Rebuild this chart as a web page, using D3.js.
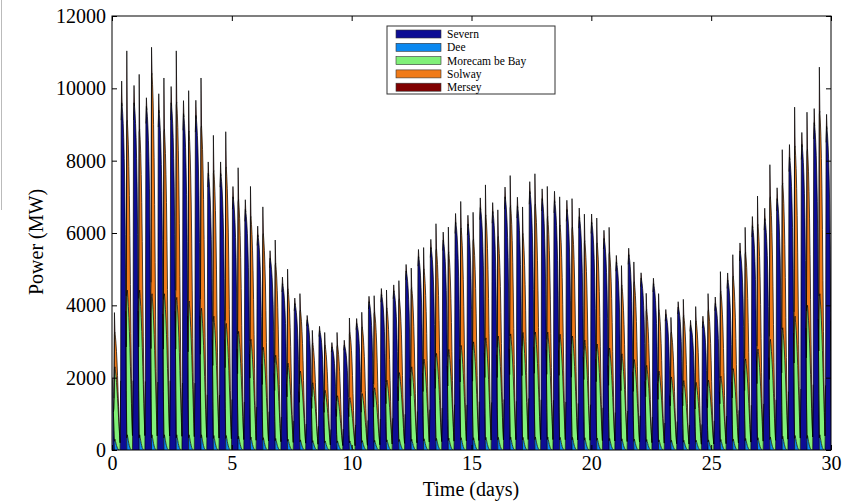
<!DOCTYPE html>
<html lang="en">

<head>
    <meta charset="UTF-8">
    <title>Tidal power by site</title>

    <script src="https://d3js.org/d3.v7.min.js"></script>

    <style>
        body {
            margin: 0;
            background: #fff;
        }

        svg {
            display: block;
            font-family: "Liberation Serif", "DejaVu Serif", serif;
        }

        .tick text {
            font-size: 20px;
            fill: #000;
        }

        .legend_text {
            font-size: 11.5px;
        }
    </style>

</head>

<body>
    <svg width="856" height="501"></svg>

    <script>
        // series names and colours (jet-like)
        const names = ["Severn", "Dee", "Morecam be Bay", "Solway", "Mersey"];
        const colors = ["#0d0d94", "#0a88f0", "#80f078", "#f07a18", "#800000"];

        // tidal cycles: first cycle start (days) and period (days)
        const cycleStart = 0.36;
        const tidalPeriod = 0.516;

        // peak power per tidal cycle (MW), cycle -1 .. 57
        const severn = [2600, 9600, 9600, 9500, 9400, 9600, 9300, 9250, 7650, 7650,
            7000, 6650, 5950, 5300, 4600, 4050, 3600, 3300, 2850, 2900,
            3500, 4100, 4300, 4400, 4950, 5350, 5600, 5800, 6300, 6250,
            6700, 6600, 7000, 6750, 7150, 6950, 6900, 6650, 6450, 6300,
            5850, 5200, 5400, 4750, 4600, 3750, 3950, 3450, 3550, 4050,
            4700, 5500, 6200, 6400, 6950, 8100, 8450, 9050, 8950];
        const dee = [300, 420, 420, 420, 420, 420, 420, 420, 400, 400,
            380, 360, 340, 320, 300, 280, 260, 250, 250, 250,
            260, 270, 280, 290, 300, 310, 320, 330, 340, 340,
            350, 350, 360, 350, 360, 360, 350, 350, 340, 330,
            320, 310, 300, 290, 280, 270, 270, 270, 280, 290,
            300, 320, 340, 360, 380, 400, 400, 420, 420];
        const morecambe = [2000, 4000, 4000, 3900, 3900, 3800, 3700, 3500, 3300, 3100,
            2900, 2700, 2500, 2300, 2100, 1900, 1600, 1400, 1250, 1200,
            1300, 1450, 1650, 1850, 2000, 2200, 2350, 2450, 2550, 2650,
            2750, 2800, 2850, 2900, 2900, 2900, 2850, 2800, 2700, 2600,
            2500, 2350, 2200, 2050, 1900, 1750, 1650, 1600, 1650, 1750,
            1950, 2200, 2450, 2700, 3000, 3300, 3600, 3900, 4000];
        const solway = [960, 4700, 4450, 6100, 4550, 5400, 4700, 5050, 4030, 4330,
            3650, 3400, 3150, 2550, 2060, 1700, 1100, 1250, 1400, 1800,
            1850, 2100, 2000, 2050, 2190, 2500, 2900, 2700, 3250, 2850,
            3400, 2760, 3550, 2740, 3550, 3200, 3020, 3020, 2750, 2800,
            2650, 1900, 2160, 1550, 1700, 1250, 1800, 1700, 1950, 2350,
            2560, 2950, 3450, 3950, 4000, 4710, 4320, 5050, 3550];
        const mersey = [600, 2000, 1600, 800, 1500, 1500, 1200, 1400, 1050, 1050,
            950, 900, 800, 700, 600, 500, 400, 400, 400, 450,
            450, 500, 550, 550, 600, 650, 750, 750, 800, 800,
            900, 800, 900, 800, 900, 900, 850, 850, 800, 750,
            750, 600, 600, 500, 500, 450, 500, 450, 500, 600,
            650, 750, 850, 950, 1000, 1150, 1100, 1300, 1100];

        // generation shape through one cycle (fraction of peak, 24 steps)
        const severnShape = [0.2, 0.95, 1, 0.99, 0.97, 0.94, 0.9, 0.84, 0.76, 0.62, 0.4, 0.15,
            0, 0, 0, 0, 0, 0, 0, 0, 0, 0, 0, 0];
        const deeShape = [0, 0, 0, 0, 0, 0, 0, 0, 0, 0, 0, 0.5,
            0.8, 1, 0.8, 0.6, 0.42, 0.28, 0.16, 0.08, 0.03, 0, 0, 0];
        const morecambeShape = [0, 0, 0, 0, 0, 0, 0, 0, 0, 0, 0, 0.3,
            1, 1, 0.97, 0.93, 0.87, 0.79, 0.69, 0.57, 0.45, 0.32, 0.2, 0.1];
        const solwayShape = [0, 0, 0, 0, 0, 0, 0, 0, 0, 0, 0, 0.3,
            1, 1, 0.98, 0.95, 0.89, 0.8, 0.66, 0.48, 0.3, 0.15, 0.05, 0];
        const merseyShape = [0, 0, 0.3, 0, 0, 0, 0, 0, 0, 0, 0, 0,
            1, 0, 0, 0, 0, 0, 0, 0, 0, 0, 0, 0];

        const xTicks = [0, 5, 10, 15, 20, 25, 30];
        const yTicks = [0, 2000, 4000, 6000, 8000, 10000, 12000];

        const svg = d3.select("svg");

        const plotLeft = 112, plotRight = 831, plotTop = 16, plotBottom = 450;

        const x = d3.scaleLinear().domain([0, 30]).range([plotLeft, plotRight]);
        const y = d3.scaleLinear().domain([0, 12000]).range([plotBottom, plotTop]);

        // build the rows for the stack
        const peaks = [severn, dee, morecambe, solway, mersey];
        const shapes = [severnShape, deeShape, morecambeShape, solwayShape, merseyShape];
        const steps = severnShape.length;
        const rows = [];
        for (let i = 0; i < severn.length; i++) {
            for (let j = 0; j < steps; j++) {
                const t = cycleStart + (i - 1) * tidalPeriod + j * tidalPeriod / steps;
                if (t < 0 || t > 30.3) continue;
                const row = { t: t };
                names.forEach((nm, s) => row[nm] = peaks[s][i] * shapes[s][j]);
                rows.push(row);
            }
        }

        const series = d3.stack().keys(names)(rows);

        svg.append("line")
            .attr("x1", 1.5).attr("x2", 1.5)
            .attr("y1", 0).attr("y2", 210)
            .attr("stroke", "#bbb");

        svg.append("clipPath").attr("id", "plotclip")
            .append("rect")
            .attr("x", plotLeft).attr("y", plotTop)
            .attr("width", plotRight - plotLeft).attr("height", plotBottom - plotTop);

        const area = d3.area()
            .x(d => x(d.data.t))
            .y0(d => y(d[0]))
            .y1(d => y(d[1]));

        const plot = svg.append("g").attr("clip-path", "url(#plotclip)");

        plot.selectAll(".layer")
            .data(series)
            .enter()
            .append("path")
            .attr("class", "layer")
            .attr("d", area)
            .attr("fill", (d, i) => colors[i]);

        // black edge along the top of each layer, only where the layer is present
        const hasValue = d => d && d[1] - d[0] > 0;
        const edge = d3.line()
            .defined((d, i, arr) => hasValue(d) || hasValue(arr[i - 1]) || hasValue(arr[i + 1]))
            .x(d => x(d.data.t))
            .y(d => y(d[1]));

        plot.selectAll(".edge")
            .data(series)
            .enter()
            .append("path")
            .attr("class", "edge")
            .attr("d", edge)
            .attr("fill", "none")
            .attr("stroke", "#000")
            .attr("stroke-width", 0.7)
            .attr("stroke-linejoin", "round");

        // axes with inward ticks on all four sides
        const fmt = d3.format("d");
        const gB = svg.append("g").attr("transform", `translate(0,${plotBottom})`)
            .call(d3.axisBottom(x).tickValues(xTicks).tickSize(-5).tickPadding(6).tickFormat(fmt));
        const gT = svg.append("g").attr("transform", `translate(0,${plotTop})`)
            .call(d3.axisTop(x).tickValues(xTicks).tickSize(-5).tickFormat(""));
        const gL = svg.append("g").attr("transform", `translate(${plotLeft},0)`)
            .call(d3.axisLeft(y).tickValues(yTicks).tickSize(-5).tickPadding(6).tickFormat(fmt));
        const gR = svg.append("g").attr("transform", `translate(${plotRight},0)`)
            .call(d3.axisRight(y).tickValues(yTicks).tickSize(-5).tickFormat(""));
        [gB, gT, gL, gR].forEach(g => {
            g.select(".domain").remove();
            g.selectAll(".tick line").attr("stroke", "#000");
            g.attr("font-family", null).attr("font-size", null);
        });

        svg.append("rect")
            .attr("x", plotLeft).attr("y", plotTop)
            .attr("width", plotRight - plotLeft).attr("height", plotBottom - plotTop)
            .attr("fill", "none")
            .attr("stroke", "#000");

        svg.append("text")
            .attr("transform", `translate(43,242) rotate(-90)`)
            .attr("text-anchor", "middle")
            .attr("font-size", 20)
            .text("Power (MW)");

        svg.append("text")
            .attr("x", 471).attr("y", 496)
            .attr("text-anchor", "middle")
            .attr("font-size", 20)
            .text("Time (days)");

        // legend
        const legend = svg.append("g").attr("transform", "translate(387,26)");
        legend.append("rect")
            .attr("width", 168).attr("height", 68)
            .attr("fill", "#fff")
            .attr("stroke", "#333");
        names.forEach((nm, i) => {
            const cy = 8 + i * 13.3;
            legend.append("rect")
                .attr("x", 9).attr("y", cy - 4)
                .attr("width", 45).attr("height", 8)
                .attr("fill", colors[i])
                .attr("stroke", "#333")
                .attr("stroke-width", 0.6);
            legend.append("text")
                .attr("class", "legend_text")
                .attr("x", 60).attr("y", cy + 4)
                .text(nm);
        });
    </script>
</body>

</html>
